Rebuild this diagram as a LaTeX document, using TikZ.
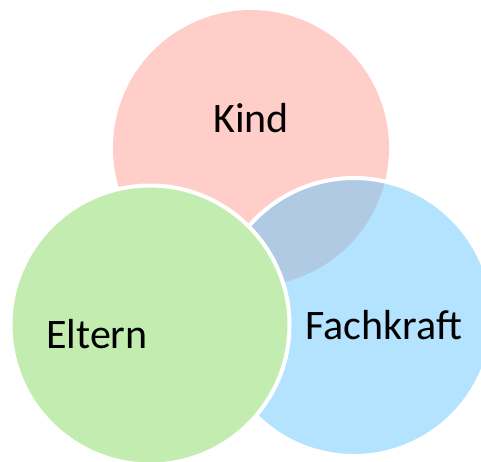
\documentclass[tikz,border=0pt]{standalone}
\usepackage{fontspec}
\setmainfont{Carlito}
\definecolor{kindc}{RGB}{255,206,201}
\definecolor{fachc}{RGB}{179,227,255}
\definecolor{overc}{RGB}{177,202,227}
\definecolor{elternc}{RGB}{195,237,176}
\tikzset{
  lbl/.style={anchor=base, font=\fontsize{42}{50}\selectfont, text=black, inner sep=0pt},
  rim/.style={draw=white, line width=4pt}
}
\begin{document}
\begin{tikzpicture}[x=1pt,y=-1pt]
\clip (0,0) rectangle (481,461);
\fill[white] (0,0) rectangle (481,461);
\coordinate (ck) at (251,148);
\coordinate (cf) at (354,317);
\coordinate (ce) at (150,325);
% Kind
\fill[kindc] (ck) circle[radius=138];
% Fachkraft
\fill[fachc] (cf) circle[radius=139];
\begin{scope}
  \clip (ck) circle[radius=138];
  \fill[overc] (cf) circle[radius=139];
\end{scope}
\draw[rim] (cf) circle[radius=139];
% Eltern
\filldraw[fill=elternc, rim] (ce) circle[radius=139.5];
% labels
\node[lbl] (tkind) at (251,132) {Kind};
\node[lbl] (tfach) at (383.5,339) {Fachkraft};
\node[lbl] (telt) at (97,348) {Eltern};
\end{tikzpicture}
\end{document}
